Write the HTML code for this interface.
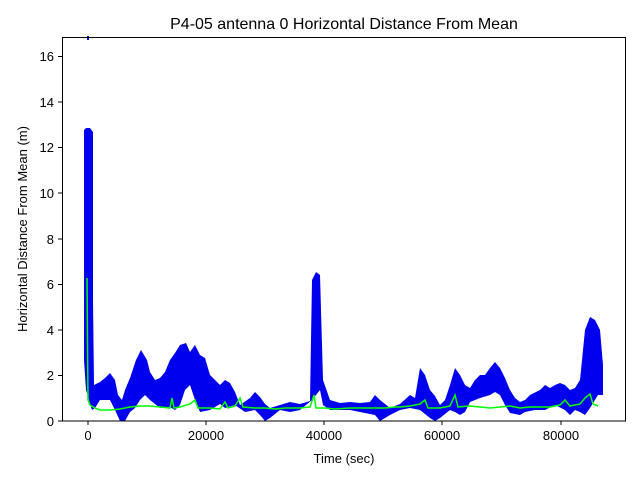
<!DOCTYPE html>
<html><head><meta charset="utf-8"><style>
body{margin:0;background:#fff;}
svg{display:block;font-family:"Liberation Sans",sans-serif;}
</style></head><body>
<svg width="640" height="480" viewBox="0 0 640 480">
<rect width="640" height="480" fill="#fff"/>
<text x="344" y="29" font-size="16" text-anchor="middle">P4-05 antenna 0 Horizontal Distance From Mean</text>
<!-- blue band -->
<path fill="#0000ee" d="M84,130 L86,128 L90,128 L93,132 L93,300 L94,385 L100,382 L105,378 L110,373 L115,380 L118,395 L122,400 L125,390 L130,378 L136,360 L141,350 L147,360 L150,372 L155,380 L160,378 L165,372 L170,360 L175,353 L180,345 L186,343 L190,352 L195,345 L200,355 L205,358 L210,375 L215,380 L220,385 L225,380 L230,383 L235,392 L240,405 L250,398 L255,392 L260,397 L265,404 L270,408 L280,405 L290,402 L300,404 L310,401 L312,280 L316,272 L320,275 L323,380 L330,400 L340,403 L350,402 L360,403 L370,402 L375,395 L380,400 L390,408 L400,404 L410,395 L415,398 L420,368 L425,375 L430,390 L435,396 L440,405 L445,400 L450,385 L455,368 L460,375 L465,385 L470,388 L475,380 L480,375 L485,375 L490,368 L495,362 L500,368 L505,378 L510,390 L515,398 L520,402 L525,400 L530,395 L540,390 L545,385 L550,388 L555,385 L560,383 L565,385 L570,390 L575,388 L580,380 L585,330 L590,317 L595,320 L600,330 L603,365 L603,395 L598,395 L590,408 L585,415 L580,412 L575,410 L570,415 L565,410 L555,405 L545,410 L535,410 L525,412 L520,415 L510,413 L505,405 L500,395 L495,392 L490,395 L480,398 L470,402 L465,412 L460,415 L455,412 L450,410 L440,418 L435,421 L430,418 L420,410 L410,408 L400,410 L390,415 L380,421 L375,415 L360,412 L350,410 L340,410 L330,410 L323,405 L320,390 L316,395 L312,400 L300,410 L290,412 L280,410 L270,418 L265,421 L260,415 L255,410 L245,412 L235,405 L225,408 L220,404 L210,410 L200,412 L195,400 L190,385 L185,390 L180,405 L175,410 L170,407 L160,408 L150,400 L145,395 L140,400 L135,408 L130,412 L125,421 L120,421 L115,410 L110,400 L105,400 L100,400 L95,408 L92,410 L86,390 L84,360 Z"/>
<rect x="87" y="36" width="2" height="4" fill="#0000ee"/>
<!-- green -->
<polyline fill="none" stroke="#00ff00" stroke-width="1.5" points="87,278 88,400 90,405 95,408 100,410 110,410 120,409 130,407 140,406 150,406 160,407 170,408 172,398 174,408 180,407 190,404 195,400 198,408 210,408 220,409 225,402 228,408 235,406 240,398 243,407 255,408 265,408 275,409 285,408 300,408 310,407 314,395 316,408 325,408 335,409 350,408 370,408 385,408 395,407 400,407 410,406 420,404 425,400 428,408 440,408 450,406 455,395 458,407 470,406 480,407 490,408 500,407 510,406 520,408 530,407 540,407 550,407 560,405 565,400 570,406 580,404 585,398 590,394 593,404 598,406"/>
<!-- axes -->
<rect x="62.5" y="37.5" width="563" height="383.5" fill="none" stroke="#000" stroke-width="1"/>
<g stroke="#000" stroke-width="1">
<line x1="88" y1="421" x2="88" y2="425"/><line x1="206" y1="421" x2="206" y2="425"/><line x1="324" y1="421" x2="324" y2="425"/><line x1="442" y1="421" x2="442" y2="425"/><line x1="561" y1="421" x2="561" y2="425"/>
<line x1="58" y1="421" x2="62" y2="421"/><line x1="58" y1="375.5" x2="62" y2="375.5"/><line x1="58" y1="330" x2="62" y2="330"/><line x1="58" y1="284.5" x2="62" y2="284.5"/><line x1="58" y1="239" x2="62" y2="239"/><line x1="58" y1="193" x2="62" y2="193"/><line x1="58" y1="147.5" x2="62" y2="147.5"/><line x1="58" y1="102" x2="62" y2="102"/><line x1="58" y1="56.5" x2="62" y2="56.5"/>
</g>
<g font-size="13" text-anchor="middle">
<text x="88" y="440">0</text><text x="206" y="440">20000</text><text x="324" y="440">40000</text><text x="442" y="440">60000</text><text x="561" y="440">80000</text>
<text x="344" y="463">Time (sec)</text>
</g>
<g font-size="13" text-anchor="end">
<text x="54" y="426">0</text><text x="54" y="380">2</text><text x="54" y="335">4</text><text x="54" y="289">6</text><text x="54" y="244">8</text><text x="54" y="198">10</text><text x="54" y="152">12</text><text x="54" y="107">14</text><text x="54" y="61">16</text>
</g>
<text transform="translate(27,229) rotate(-90)" font-size="13" text-anchor="middle">Horizontal Distance From Mean (m)</text>
</svg>
</body></html>
